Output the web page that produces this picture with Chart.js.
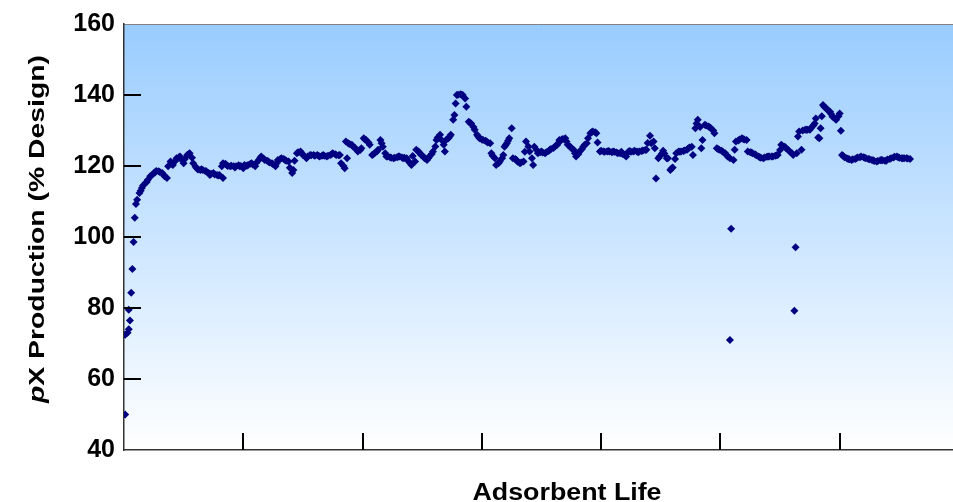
<!DOCTYPE html>
<html>
<head>
<meta charset="utf-8">
<title>pX Production vs Adsorbent Life</title>
<script src="https://cdn.jsdelivr.net/npm/chart.js@4.4.1/dist/chart.umd.min.js"></script>
<style>
  html, body { margin: 0; padding: 0; background: #fff; overflow: hidden; }
  #wrap { position: relative; width: 953px; height: 502px; }
</style>
</head>
<body>
<div id="wrap"><canvas id="chart"></canvas></div>
<script>
// Adsorbent life (days on stream, tick every 100) and pX production (% design)
const adsorbentLife = [
  1, 1, 3, 4, 4, 5, 6, 7, 8, 9, 10, 11, 13, 14, 15, 16, 18, 19, 20, 22,
  23, 25, 26, 27, 29, 30, 32, 33, 34, 36, 37, 39, 40, 41, 43, 44, 46, 47, 48, 50,
  51, 53, 54, 55, 57, 58, 60, 61, 62, 64, 65, 66, 68, 69, 71, 72, 73, 75, 76, 78,
  79, 80, 82, 83, 83, 85, 86, 87, 89, 90, 92, 93, 94, 96, 97, 98, 100, 101, 103, 104,
  106, 107, 108, 110, 111, 113, 114, 115, 117, 118, 120, 121, 122, 124, 125, 127, 128, 129, 131, 132,
  134, 135, 136, 138, 139, 141, 142, 143, 145, 146, 148, 149, 150, 152, 153, 154, 156, 157, 159, 160,
  162, 163, 164, 166, 167, 168, 170, 171, 173, 174, 175, 177, 178, 180, 181, 182, 184, 185, 186, 187,
  188, 189, 191, 192, 194, 195, 196, 198, 199, 201, 202, 203, 205, 206, 208, 209, 210, 212, 213, 215,
  216, 217, 219, 220, 221, 223, 224, 226, 227, 229, 230, 231, 233, 234, 235, 237, 238, 240, 241, 242,
  244, 245, 247, 248, 249, 251, 252, 254, 255, 256, 258, 259, 261, 262, 263, 265, 266, 268, 269, 270,
  272, 273, 274, 276, 277, 278, 279, 280, 282, 283, 284, 286, 287, 289, 290, 291, 293, 294, 296, 297,
  298, 300, 301, 303, 304, 305, 307, 308, 309, 311, 312, 314, 315, 317, 318, 319, 320, 321, 322, 323,
  325, 326, 328, 329, 330, 332, 333, 335, 336, 337, 339, 340, 342, 343, 344, 346, 347, 349, 350, 351,
  353, 354, 356, 357, 358, 360, 361, 363, 364, 365, 367, 368, 370, 371, 372, 374, 375, 377, 378, 379,
  381, 382, 384, 385, 386, 388, 389, 391, 392, 393, 395, 396, 397, 399, 400, 402, 403, 405, 406, 407,
  409, 410, 411, 413, 414, 416, 417, 418, 420, 421, 423, 424, 425, 427, 428, 430, 431, 432, 434, 435,
  437, 438, 439, 441, 442, 444, 445, 446, 448, 449, 451, 452, 453, 455, 456, 458, 459, 460, 462, 463,
  465, 466, 467, 469, 470, 472, 473, 474, 476, 477, 479, 480, 481, 483, 484, 485, 487, 488, 490, 491,
  492, 494, 495, 497, 498, 499, 501, 502, 504, 505, 506, 508, 508, 509, 511, 512, 513, 515, 516, 518,
  519, 520, 522, 523, 525, 526, 527, 529, 530, 532, 533, 534, 536, 537, 539, 540, 541, 543, 544, 546,
  547, 548, 550, 551, 552, 554, 555, 557, 558, 560, 561, 562, 563, 564, 565, 566, 568, 569, 571, 572,
  573, 575, 576, 578, 579, 580, 582, 583, 584, 585, 586, 587, 589, 590, 592, 593, 594, 596, 597, 599,
  600, 601, 602, 603, 604, 606, 607, 608, 610, 611, 613, 614, 615, 617, 618, 620, 621, 622, 624, 625,
  627, 628, 629, 631, 632, 634, 635, 636, 638, 639, 640, 642, 643, 645, 646, 648, 649, 650, 652, 653,
  654, 656, 657, 659
];
const pxProduction = [
  50, 72.5, 73, 79.5, 74, 76.5, 84.3, 91, 98.6, 105.4, 109.3, 110.5, 112.4, 113, 113.8, 114.5, 115.2, 115.5, 116.1, 117.1,
  117.3, 118, 118.2, 118.6, 118.5, 118.3, 118, 117.6, 117.1, 116.6, 119.9, 121.3, 120.6, 120.3, 121.4, 122.2, 122.5, 122.7, 121.8, 120.8,
  122, 123.1, 123.3, 123.6, 122.3, 120.8, 119.8, 119.4, 119, 118.9, 119.1, 118.9, 118.6, 118.5, 118, 117.5, 117.8, 118, 117.6, 117.5,
  117.3, 117.5, 119.9, 116.6, 120.8, 120.6, 120.3, 120, 119.9, 120.1, 119.9, 119.6, 119.9, 120.2, 119.9, 120, 119.4, 120.3, 120.1, 120.3,
  120.6, 120.8, 120.4, 119.9, 120.9, 121.7, 122.2, 122.7, 122.1, 121.7, 121.5, 121.3, 121, 120.8, 120.5, 119.9, 120.8, 121.7, 122, 122.2,
  122, 121.7, 121.5, 121.3, 119.5, 118, 118.9, 121.5, 123.6, 123.9, 124.1, 123.6, 123.1, 122.6, 122.2, 122.7, 123.1, 123, 123.1, 122.9,
  123.1, 122.9, 122.7, 122.9, 123.1, 122.9, 122.7, 122.9, 123.1, 123.3, 123.6, 123.3, 123.1, 123, 123.1, 120.8, 120, 119.4, 126.9, 122.2,
  126.4, 126.2, 126, 125.5, 125, 124.6, 124.1, 124.5, 125, 127.8, 127.5, 127.3, 126.6, 126, 123.1, 123.3, 123.6, 124.1, 124.6, 127.3,
  126.4, 125.4, 123.6, 122.7, 122.7, 122.5, 122.3, 122.2, 122.3, 122.5, 122.7, 122.7, 122.4, 122.2, 122.3, 122.2, 121.5, 120.8, 120.3, 122.8,
  121.3, 124.6, 124.1, 123.6, 123.2, 122.7, 122.2, 121.7, 122.2, 122.7, 123.4, 124.1, 125.5, 127.3, 128, 128.8, 127.4, 126, 124.1, 127.3,
  127.8, 128.3, 128.8, 133, 134.4, 137.6, 140, 140.1, 140.2, 140.1, 140, 139, 136.7, 132.5, 132.2, 132, 131, 130.2, 128.8, 128.3,
  127.8, 127.5, 127.3, 127.1, 126.9, 126.6, 126.4, 123.6, 122.9, 122.2, 120.3, 120.8, 121.3, 122.2, 123.1, 125.4, 125.9, 126.4, 127.1, 127.8,
  130.6, 122.2, 122, 121.7, 121.2, 120.8, 121, 121.3, 124, 126.9, 125.5, 124.1, 122.2, 120.3, 125.4, 124.5, 123.6, 123.9, 124.1, 123.8,
  123.6, 123.9, 124.2, 124.6, 124.8, 125.1, 125.4, 125.9, 126.4, 127.3, 127.5, 127.6, 127.8, 126.9, 126, 125.5, 125, 124.6, 123.6, 122.7,
  123.4, 124.1, 124.8, 125.4, 125.9, 126.4, 127.8, 129.2, 129.5, 129.7, 129.5, 129.2, 126.6, 124.1, 124.3, 124.1, 124, 124.1, 124.2, 124.1,
  123.9, 124.1, 124, 123.8, 123.6, 123.6, 124, 123.4, 123, 122.7, 124.1, 124.2, 124, 124.1, 124.3, 124.1, 123.9, 124.1, 124.2, 124.4,
  124.5, 124.6, 126.5, 128.5, 126.4, 126.9, 125, 116.5, 122.2, 122.7, 123.5, 124.3, 123.5, 122.2, 122.2, 118.9, 119.3, 119.6, 122, 123.6,
  124.1, 124, 124.1, 124.2, 124.4, 124.6, 124.9, 125.2, 125.4, 123.1, 130.6, 132, 133, 131, 125, 127.3, 131.6, 131.4, 131.1, 130.9,
  130.6, 130, 129.2, 125, 124.8, 124.6, 124.3, 124, 123.6, 123.2, 122.7, 122.2, 71, 102.3, 121.7, 124.6, 126.9, 127.2, 127.5, 127.8,
  127.6, 127.5, 127.3, 124.1, 123.9, 123.8, 123.6, 123.3, 123, 122.7, 122.5, 122.3, 122.2, 122.4, 122.6, 122.7, 122.7, 122.7, 122.7, 122.9,
  123, 123.1, 124.5, 126, 125.7, 125.4, 125, 124.5, 124.1, 123.6, 123.1, 79.2, 97.1, 123.6, 128.3, 129.7, 124.6, 130, 130.2, 130.2,
  130.2, 130.2, 130.8, 131.4, 132, 133.4, 128, 127.8, 130.6, 134, 137.2, 136.7, 136.2, 135.7, 135.3, 134.6, 133.9, 133.4, 133, 134,
  134.8, 129.9, 123.1, 122.8, 122.5, 122.2, 122, 121.9, 121.7, 121.9, 122, 122.2, 122.4, 122.5, 122.7, 122.5, 122.3, 122.2, 122, 121.9,
  121.7, 121.6, 121.4, 121.3, 121.4, 121.6, 121.7, 121.6, 121.5, 121.5, 121.8, 122, 122.2, 122.4, 122.6, 122.7, 122.5, 122.3, 122.2, 122.2,
  122.2, 122.2, 122.1, 122
];

const yTicks = [40, 60, 80, 100, 120, 140, 160];
const xTicks = [100, 200, 300, 400, 500, 600];
const X_MAX = 695;

const FONT = '"Liberation Sans", Arial, Helvetica, sans-serif';

const points = adsorbentLife.map((x, i) => ({ x, y: pxProduction[i] }));

// draws a bold label stretched to a given width (the original titles run wide)
function wideText(ctx, parts, cx, cy, width, angle) {
  const widths = parts.map(p => { ctx.font = p.font; return ctx.measureText(p.text).width; });
  const total = widths.reduce((a, b) => a + b, 0);
  ctx.save();
  ctx.translate(cx, cy);
  ctx.rotate(angle);
  ctx.scale(width / total, 1);
  ctx.textAlign = 'left';
  ctx.textBaseline = 'alphabetic';
  let x = -total / 2;
  parts.forEach((p, i) => {
    ctx.font = p.font;
    ctx.fillText(p.text, x, 0);
    x += widths[i];
  });
  ctx.restore();
}

// blue-to-white fill behind the plot area, plus the thin frame on top
const plotBackground = {
  id: 'plotBackground',
  beforeDraw(chart) {
    const { ctx, chartArea: a } = chart;
    const g = ctx.createLinearGradient(0, a.top, 0, a.bottom);
    g.addColorStop(0, '#99CCFF');
    g.addColorStop(1, '#FFFFFF');
    ctx.save();
    ctx.fillStyle = g;
    ctx.fillRect(a.left, a.top, a.right - a.left, a.bottom - a.top);
    ctx.strokeStyle = '#808080';
    ctx.lineWidth = 1;
    ctx.beginPath();
    ctx.moveTo(a.left, a.top + 0.5);
    ctx.lineTo(a.right, a.top + 0.5);
    ctx.stroke();
    ctx.restore();
  }
};

// tick marks pointing into the plot, and the two axis titles
const innerTicks = {
  id: 'innerTicks',
  afterDraw(chart) {
    const { ctx, chartArea: a, scales } = chart;
    ctx.save();
    ctx.strokeStyle = '#000';
    ctx.lineWidth = 2;
    ctx.beginPath();
    yTicks.slice(1, -1).forEach(v => {
      const y = Math.round(scales.y.getPixelForValue(v));
      ctx.moveTo(a.left, y);
      ctx.lineTo(a.left + 17, y);
    });
    xTicks.forEach(v => {
      const x = Math.round(scales.x.getPixelForValue(v));
      ctx.moveTo(x, a.bottom);
      ctx.lineTo(x, a.bottom - 17);
    });
    ctx.stroke();
    ctx.fillStyle = '#000';

    wideText(ctx, [{ text: 'Adsorbent Life', font: 'bold 23px ' + FONT }],
      567, 499.5, 189, 0);

    wideText(ctx, [
      { text: 'p', font: 'italic bold 22px ' + FONT },
      { text: 'X Production (% Design)', font: 'bold 22px ' + FONT },
    ], 43.5, 229, 348, -Math.PI / 2);
    ctx.restore();
  }
};

new Chart(document.getElementById('chart'), {
  type: 'scatter',
  data: {
    datasets: [{
      label: 'pX Production',
      data: points,
      pointStyle: 'rectRot',
      pointRadius: 4,
      pointBorderWidth: 0,
      backgroundColor: '#000080',
      borderColor: '#000080',
    }],
  },
  options: {
    responsive: true,
    maintainAspectRatio: false,
    animation: false,
    layout: { autoPadding: false, padding: { top: 22, right: 0, bottom: 0, left: 0 } },
    plugins: {
      legend: { display: false },
      tooltip: { enabled: false },
    },
    scales: {
      x: {
        type: 'linear',
        min: 0,
        max: X_MAX,
        grid: { display: false, drawTicks: false },
        border: { display: true, color: '#333', width: 1.5 },
        ticks: { display: false },
        afterFit: (s) => { s.height = 52; },
      },
      y: {
        min: 40,
        max: 160,
        grid: { display: false, drawTicks: false },
        border: { display: true, color: '#333', width: 1.5 },
        afterBuildTicks: (s) => { s.ticks = yTicks.map(v => ({ value: v })); },
        ticks: {
          color: '#000',
          padding: 9,
          font: { family: FONT, size: 25, weight: 'bold' },
        },
        afterFit: (s) => { s.width = 124; },
      },
    },
  },
  plugins: [plotBackground, innerTicks],
});
</script>
</body>
</html>
